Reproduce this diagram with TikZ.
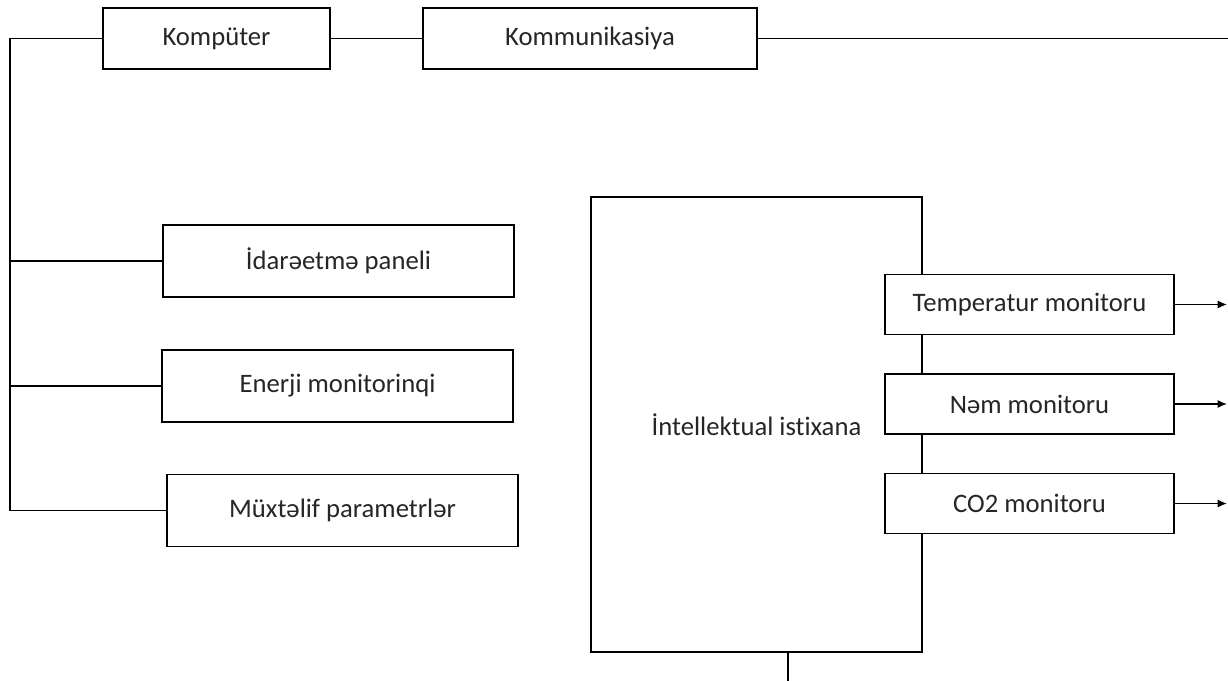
\documentclass[tikz,border=0pt]{standalone}
\usepackage{fontspec}
\setmainfont{Carlito}[Ligatures=NoCommon]
\usetikzlibrary{arrows.meta}
\begin{document}
\begin{tikzpicture}[x=0.75pt,y=-0.75pt,
	blok/.style={draw,line width=1.1pt,fill=white,inner sep=0pt,text=black!85,font=\fontsize{20}{24}\selectfont},
	xet/.style={line width=1.1pt},
	ox/.style={xet,-{Latex[length=7pt,width=6pt]}}]
	\useasboundingbox (0,0) rectangle (1228,681);

	% Yuxari xett
	\node[blok,minimum width=170.25pt,minimum height=45.75pt] (komp) at (216.5,38.5) {Kompüter};
	\node[blok,minimum width=250.5pt,minimum height=45.75pt] (komm) at (590,38.5) {Kommunikasiya};
	\coordinate (sol) at (10,38.5);
	\coordinate (sag) at (1228,38.5);
	\draw[xet] (komp.east) -- (komm.west);
	\draw[xet] (komm.east) -- (sag);

	% Sol bloklar
	\foreach \ad/\x/\y/\lab in {idare/338.5/261/{İdarəetmə paneli},
		enerji/337.5/386/{Enerji monitorinqi},
		muxt/342.5/510.5/{Müxtəlif parametrlər}} {
		\node[blok,minimum width=263.25pt,minimum height=54pt] (\ad) at (\x,\y) {\lab};
	}
	\draw[xet] (komp.west) -- (sol) |- (muxt.west);
	\draw[xet] (idare.west) -- (idare.west -| sol);
	\draw[xet] (enerji.west) -- (enerji.west -| sol);

	% Istixana
	\node[blok,minimum width=248.25pt,minimum height=341.25pt] (istixana) at (756.5,424.5) {İntellektual istixana};
	\coordinate (alt) at (788,681);
	\draw[xet] (istixana.south -| alt) -- (alt);

	% Monitorlar
	\foreach \ad/\y/\lab in {temp/304.5/{Temperatur monitoru},
		nem/404/{Nəm monitoru},
		co/503.5/{CO2 monitoru}} {
		\node[blok,minimum width=216.75pt,minimum height=45pt] (\ad) at (1029.5,\y) {\lab};
		\coordinate (\ad-uc) at (1227,\y);
		\draw[ox] (\ad.east) -- (\ad-uc);
	}
\end{tikzpicture}
\end{document}
